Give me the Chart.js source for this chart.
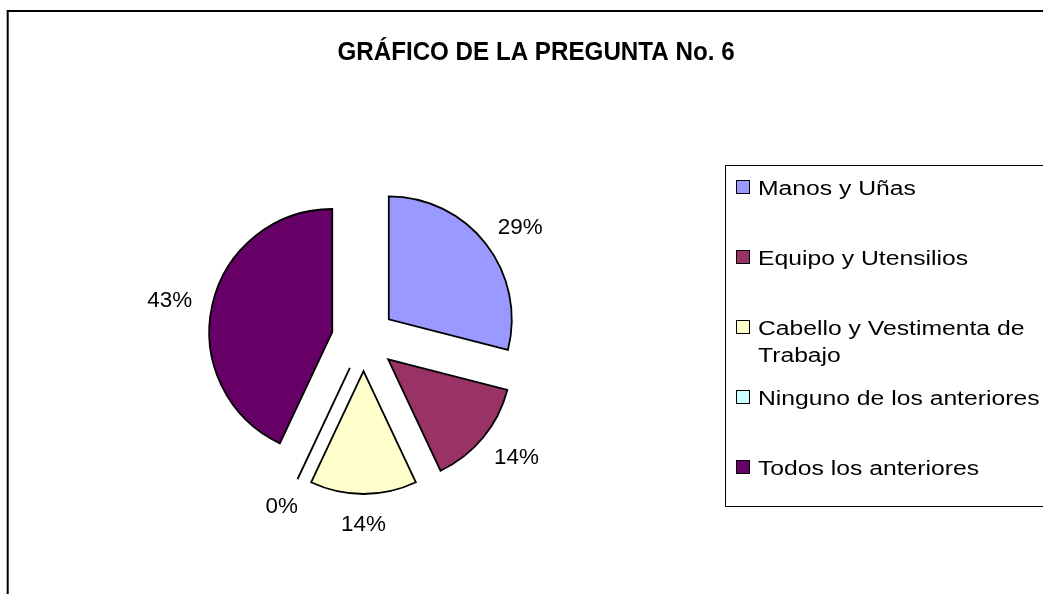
<!DOCTYPE html>
<html><head><meta charset="utf-8">
<script src="https://cdn.jsdelivr.net/npm/chart.js@4.4.0/dist/chart.umd.min.js"></script>
<style>html,body{margin:0;padding:0;background:#fff;}#wrap{width:1043px;height:594px;position:relative;}</style>
</head><body><div id="wrap"><canvas id="c" width="1043" height="594"></canvas></div>
<script>
const titleText = 'GRÁFICO DE LA PREGUNTA No. 6';
const categories = ['Manos y Uñas', 'Equipo y Utensilios', 'Cabello y Vestimenta de Trabajo', 'Ninguno de los anteriores', 'Todos los anteriores'];
const legendLines = [['Manos y Uñas'], ['Equipo y Utensilios'], ['Cabello y Vestimenta de', 'Trabajo'], ['Ninguno de los anteriores'], ['Todos los anteriores']];
const percentValues = [29, 14, 14, 0, 43];
const sliceColors = ['#9999FF', '#993366', '#FFFFCC', '#CCFFFF', '#660066'];

const EXPLODE = 32;      // explosion distance (px)
const RADIUS = 123;      // pie radius (px)
const LABEL_GAP = 21;
const FONT = "'Liberation Sans', Arial, sans-serif";

function scaledText(ctx, text, x, y, sx, align) {
  ctx.save();
  ctx.translate(x, y);
  ctx.scale(sx, 1);
  ctx.textAlign = align;
  ctx.fillText(text, 0, 0);
  ctx.restore();
}

const explodePlugin = {
  id: 'explode',
  afterDatasetUpdate(chart, args) {
    const meta = args.meta;
    meta.data.forEach(el => {
      const mid = (el.startAngle + el.endAngle) / 2;
      el.x += Math.cos(mid) * EXPLODE;
      el.y += Math.sin(mid) * EXPLODE;
    });
  }
};

const decorPlugin = {
  id: 'decor',
  beforeDraw(chart) {
    const ctx = chart.ctx;
    ctx.save();
    ctx.fillStyle = '#fff';
    ctx.fillRect(0, 0, chart.width, chart.height);
    ctx.restore();
  },
  afterDatasetsDraw(chart) {
    const ctx = chart.ctx;
    const meta = chart.getDatasetMeta(0);
    ctx.save();
    // zero-value slices drawn as a line
    meta.data.forEach((el, i) => {
      if (el.endAngle - el.startAngle === 0) {
        const a = el.startAngle;
        ctx.beginPath();
        ctx.moveTo(el.x, el.y);
        ctx.lineTo(el.x + Math.cos(a) * el.outerRadius, el.y + Math.sin(a) * el.outerRadius);
        ctx.strokeStyle = '#000';
        ctx.lineWidth = 1.8;
        ctx.stroke();
      }
    });
    // percentage labels
    const fs = 22, sx = 1.02;
    ctx.font = fs + 'px ' + FONT;
    ctx.fillStyle = '#000';
    meta.data.forEach((el, i) => {
      const txt = percentValues[i] + '%';
      const mid = (el.startAngle + el.endAngle) / 2;
      const dx = Math.cos(mid), dy = Math.sin(mid);
      const w = ctx.measureText(txt).width * sx;
      const h = fs * 0.716;
      const cx = el.x + (el.outerRadius + LABEL_GAP) * dx + dx * w / 2;
      const cy = el.y + (el.outerRadius + LABEL_GAP) * dy + dy * h / 2;
      scaledText(ctx, txt, cx, cy + h / 2, sx, 'center');
    });
    ctx.restore();
  },
  afterDraw(chart) {
    const ctx = chart.ctx;
    ctx.save();
    // outer frame (extends beyond the visible area)
    ctx.strokeStyle = '#000';
    ctx.lineWidth = 2;
    ctx.beginPath();
    ctx.moveTo(7.7, 600);
    ctx.lineTo(7.7, 11);
    ctx.lineTo(1050, 11);
    ctx.stroke();
    // title
    ctx.fillStyle = '#000';
    ctx.font = 'bold 26px ' + FONT;
    scaledText(ctx, titleText, 536, 51 + 9.3, 0.93, 'center');
    // legend box
    ctx.lineWidth = 1;
    ctx.strokeStyle = '#000';
    ctx.strokeRect(725.5, 165.5, 400, 341);
    const fs = 20, sx = 1.235;
    ctx.font = fs + 'px ' + FONT;
    legendLines.forEach((lines, i) => {
      const yc = 188 + 70 * i;
      ctx.fillStyle = sliceColors[i];
      ctx.fillRect(737, yc - 7, 13, 13);
      ctx.strokeStyle = '#000';
      ctx.lineWidth = 1;
      ctx.strokeRect(736.5, yc - 7.5, 13, 13);
      ctx.fillStyle = '#000';
      lines.forEach((ln, j) => {
        scaledText(ctx, ln, 758, yc + 27 * j + fs * 0.716 / 2, sx, 'left');
      });
    });
    ctx.restore();
  }
};

new Chart(document.getElementById('c'), {
  type: 'pie',
  data: {
    labels: categories,
    datasets: [{
      data: percentValues,
      backgroundColor: sliceColors,
      borderColor: '#000',
      borderWidth: 1.8,
      borderJoinStyle: 'miter',
      radius: RADIUS
    }]
  },
  options: {
    responsive: false,
    animation: false,
    events: [],
    layout: { padding: { left: 10, right: 326, top: 94, bottom: 10 } },
    plugins: {
      legend: { display: false },
      title: { display: false },
      tooltip: { enabled: false }
    }
  },
  plugins: [explodePlugin, decorPlugin]
});
</script>
</body></html>
